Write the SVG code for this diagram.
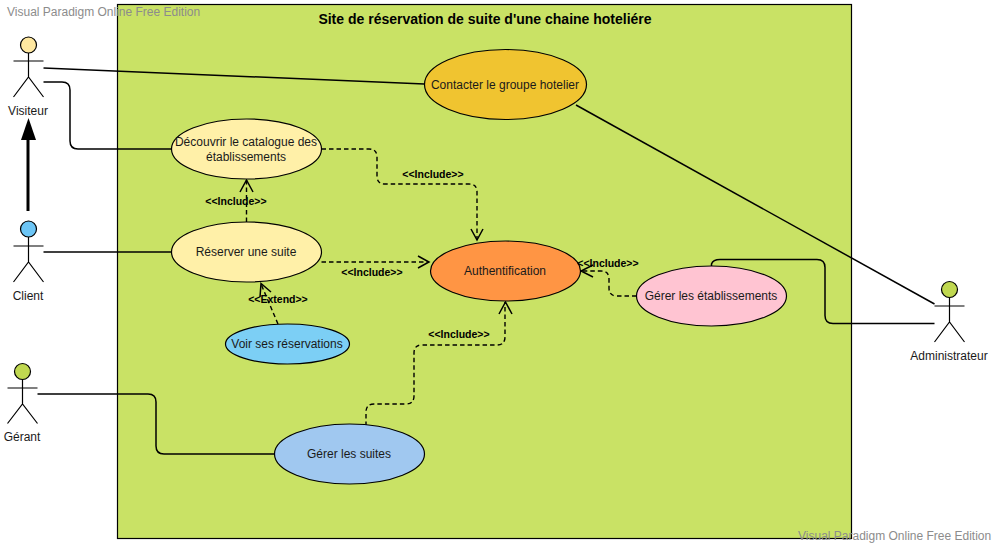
<svg xmlns="http://www.w3.org/2000/svg" width="996" height="545" viewBox="0 0 996 545">
<style>
text{font-family:"Liberation Sans",Arial,sans-serif;font-size:12px;fill:#1a1a1a;text-anchor:middle}
.wm{fill:#8c8c8c;text-anchor:start}
.title{font-weight:bold;font-size:14px;fill:#000}
.inc{font-size:10.500px;font-weight:bold;fill:#000}
.uc{stroke:#000;stroke-width:1.2}
.a{fill:none;stroke:#000;stroke-width:1.2}
.c{fill:none;stroke:#000;stroke-width:1.5}
.d{fill:none;stroke:#000;stroke-width:1.400;stroke-dasharray:4.5 3}
.h{fill:none;stroke:#000;stroke-width:1.5}
</style>
<rect x="117.500" y="4.500" width="734" height="534" fill="#c9e265" stroke="#000" stroke-width="1.200"/>
<text class="title" x="485" y="24">Site de réservation de suite d'une chaine hoteliére</text>
<text class="wm" x="7" y="16">Visual Paradigm Online Free Edition</text>
<text class="wm" x="798" y="540">Visual Paradigm Online Free Edition</text>
<g id="connectors">
<path class="c" d="M43.500 68 L424.500 84"/>
<path class="c" d="M43.500 82 H62 Q70 82 70 90 V141 Q70 149 78 149 H171.500"/>
<path class="c" d="M576 105 L934.500 304"/>
<path class="c" d="M43.500 252 H171.500"/>
<path class="c" d="M37.500 394 H148 Q156 394 156 402 V446 Q156 454 164 454 H274.500"/>
<path class="c" d="M711.500 266 V264 Q713 259.500 720 259.500 H817 Q825 259.500 825 267.500 V315.500 Q825 323.500 833 323.500 H934.500"/>
<path d="M28 211 V134" fill="none" stroke="#000" stroke-width="3"/>
<path d="M21 140 L28.500 118 L36 140 Z" fill="#000"/>
<path class="d" d="M246.500 222 V180"/>
<path class="h" d="M240 192 L246.500 180 L253 192"/>
<path class="d" d="M321.500 149 H369 Q377 149 377 157 V176 Q377 184 385 184 H469 Q477 184 477 192 V240"/>
<path class="h" d="M471 229 L477 240 L483 229"/>
<path class="d" d="M321.500 262 H429"/>
<path class="h" d="M418 256 L429 262 L418 268"/>
<path class="d" d="M636.500 296 H617 Q609 296 609 288 V279 Q609 271 601 271 H581"/>
<path class="h" d="M593 265 L581 271 L593 277"/>
<path class="d" d="M366 426 V412 Q366 404 374 404 H406 Q414 404 414 396 V353 Q414 345 422 345 H497 Q505 345 505 337 V302"/>
<path class="h" d="M499 314 L505.500 302 L512 314"/>
<path class="d" d="M278 324 L261 284"/>
<path class="h" d="M260 297 L261 283.500 L271 292"/>
</g>
<g id="uc-contacter"><ellipse class="uc" cx="505.500" cy="84.500" rx="81" ry="35" fill="#f0c430"/><text x="505" y="89">Contacter le groupe hotelier</text></g>
<g id="uc-decouvrir"><ellipse class="uc" cx="246.500" cy="149" rx="75" ry="30" fill="#fff0a8"/><text x="246" y="146">Découvrir le catalogue des</text><text x="246" y="161">établissements</text></g>
<g id="uc-reserver"><ellipse class="uc" cx="246.500" cy="252" rx="75" ry="30" fill="#fff0a8"/><text x="246" y="256">Réserver une suite</text></g>
<g id="uc-auth"><ellipse class="uc" cx="505.500" cy="271" rx="75" ry="30" fill="#ff9544"/><text x="505" y="275">Authentification</text></g>
<g id="uc-etab"><ellipse class="uc" cx="711.500" cy="296" rx="75" ry="30" fill="#ffc4d2"/><text x="711" y="300">Gérer les établissements</text></g>
<g id="uc-voir"><ellipse class="uc" cx="287.500" cy="344" rx="62" ry="20" fill="#7ccff5"/><text x="287" y="348">Voir ses réservations</text></g>
<g id="uc-suites"><ellipse class="uc" cx="349.500" cy="454" rx="75" ry="30" fill="#a0c8f0"/><text x="349" y="458">Gérer les suites</text></g>
<g id="actor-visiteur"><circle class="a" cx="28.500" cy="45" r="8" style="fill:#ffe8a0"/><path class="a" d="M28.500 53 V77 M13.500 61 H43.500 M13.500 97 L28.500 77 L43.500 97"/><text x="28" y="115">Visiteur</text></g>
<g id="actor-client"><circle class="a" cx="28.500" cy="229" r="8" style="fill:#6cc5f5"/><path class="a" d="M28.500 237 V262 M13.500 246 H43.500 M13.500 282 L28.500 262 L43.500 282"/><text x="28" y="300">Client</text></g>
<g id="actor-gerant"><circle class="a" cx="22.500" cy="371.500" r="8" style="fill:#c0d850"/><path class="a" d="M22.500 379.500 V404 M7.500 388 H37.500 M7.500 423.500 L22.500 404 L37.500 423.500"/><text x="22" y="441">Gérant</text></g>
<g id="actor-admin"><circle class="a" cx="949.500" cy="289.500" r="8" style="fill:#c0d850"/><path class="a" d="M949.500 297.500 V322 M934.500 306 H964.500 M934.500 342 L949.500 322 L964.500 342"/><text x="949" y="360">Administrateur</text></g>
<g id="labels">
<text class="inc" x="236" y="205">&lt;&lt;Include&gt;&gt;</text>
<text class="inc" x="433" y="178">&lt;&lt;Include&gt;&gt;</text>
<text class="inc" x="372" y="276">&lt;&lt;Include&gt;&gt;</text>
<text class="inc" x="608" y="267">&lt;&lt;Include&gt;&gt;</text>
<text class="inc" x="459" y="338">&lt;&lt;Include&gt;&gt;</text>
<text class="inc" x="278" y="303">&lt;&lt;Extend&gt;&gt;</text>
</g>
</svg>
